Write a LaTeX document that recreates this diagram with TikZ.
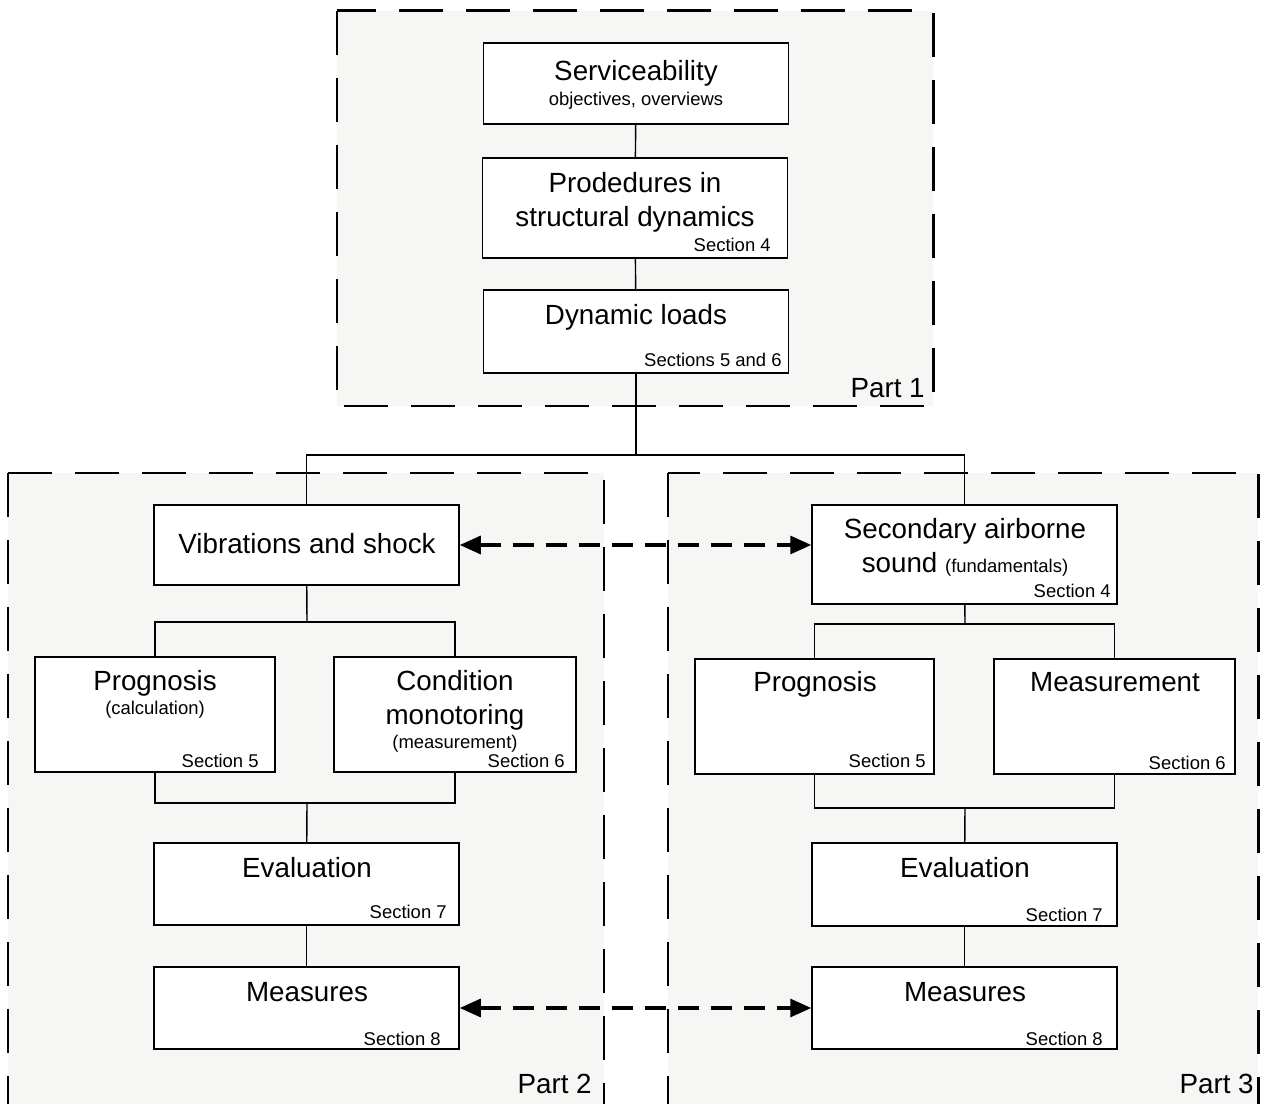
\documentclass[tikz,border=0pt]{standalone}
\usepackage{fontspec}
\setmainfont{Liberation Sans}
\usetikzlibrary{arrows.meta}
\definecolor{panelgray}{RGB}{246,246,244}

\begin{document}
\begin{tikzpicture}[x=0.02cm,y=-0.02cm,
  part/.style={draw=black,fill=panelgray,line width=1.7pt,dash pattern=on 0.88cm off 0.46cm},
  box/.style={draw=black,fill=white,line width=0.9pt,inner sep=0pt},
  head/.style={anchor=base,font=\fontsize{15.8}{19}\selectfont,inner sep=0pt},
  note/.style={anchor=base,font=\fontsize{10.5}{12.6}\selectfont,inner sep=0pt},
  sect/.style={anchor=base east,font=\fontsize{10.5}{12.6}\selectfont,inner sep=0pt},
  link/.style={draw=black,line width=0.8pt},
  both/.style={draw=black,line width=1.8pt,dash pattern=on 0.42cm off 0.24cm,
    {Triangle[length=0.42cm,width=0.36cm]}-{Triangle[length=0.42cm,width=0.36cm]}}]
            \useasboundingbox (0,0) rectangle (1262,1104);

            % the three parts
            \path[part] (337,11) rectangle (933,406);
            \path[part] (8,473) rectangle (604,1105);
            \path[part] (668,473) rectangle (1258,1105);

            % part 1
            \node[box,minimum width=6.1cm,minimum height=1.62cm] (serv) at (636,83.5) {};
            \node[box,minimum width=6.1cm,minimum height=2cm] (proc) at (635,208) {};
            \node[box,minimum width=6.1cm,minimum height=1.66cm] (loads) at (636,331.5) {};

            \node[head] (servT) at (636,81) {Serviceability};
            \node[note] (servN) at (636,106) {objectives, overviews};
            \node[head] (procT1) at (635,193) {Prodedures in};
            \node[head] (procT2) at (635,227) {structural dynamics};
            \node[sect] (procS) at (771,252) {Section 4};
            \node[head] (loadsT) at (636,325) {Dynamic loads};
            \node[sect] (loadsS) at (782,367) {Sections 5 and 6};
            \node[head,anchor=base east] (part1) at (925,398) {Part 1};

            % part 2
            \node[box,minimum width=6.1cm,minimum height=1.6cm] (vib) at (306.5,545) {};
            \node[box,minimum width=4.8cm,minimum height=2.3cm] (progL) at (155,714.5) {};
            \node[box,minimum width=4.84cm,minimum height=2.3cm] (cond) at (455,714.5) {};
            \node[box,minimum width=6.1cm,minimum height=1.64cm] (evalL) at (306.5,884) {};
            \node[box,minimum width=6.1cm,minimum height=1.64cm] (measuresL) at (306.5,1008) {};

            \node[head] (vibT) at (307,554) {Vibrations and shock};
            \node[head] (progLT) at (155,691) {Prognosis};
            \node[note] (progLN) at (155,715) {(calculation)};
            \node[sect] (progLS) at (259,768) {Section 5};
            \node[head] (condT1) at (455,691) {Condition};
            \node[head] (condT2) at (455,725) {monotoring};
            \node[note] (condN) at (455,749) {(measurement)};
            \node[sect] (condS) at (565,768) {Section 6};
            \node[head] (evalLT) at (307,877) {Evaluation};
            \node[sect] (evalLS) at (447,918) {Section 7};
            \node[head] (measuresLT) at (307,1001) {Measures};
            \node[sect] (measuresLS) at (441,1045) {Section 8};
            \node[head,anchor=base east] (part2) at (592,1093) {Part 2};

            % part 3
            \node[box,minimum width=6.1cm,minimum height=1.98cm] (sec) at (964.5,554.5) {};
            \node[box,minimum width=4.78cm,minimum height=2.3cm] (progR) at (814.5,716.5) {};
            \node[box,minimum width=4.82cm,minimum height=2.3cm] (measurement) at (1114.5,716.5) {};
            \node[box,minimum width=6.1cm,minimum height=1.66cm] (evalR) at (964.5,884.5) {};
            \node[box,minimum width=6.1cm,minimum height=1.64cm] (measuresR) at (964.5,1008) {};

            \node[head] (secT1) at (965,539) {Secondary airborne};
            \node[head] (secT2) at (965,573) {sound {\fontsize{10.5}{12.6}\selectfont(fundamentals)}};
            \node[sect] (secS) at (1111,598) {Section 4};
            \node[head] (progRT) at (815,692) {Prognosis};
            \node[sect] (progRS) at (926,768) {Section 5};
            \node[head] (measurementT) at (1115,692) {Measurement};
            \node[sect] (measurementS) at (1226,770) {Section 6};
            \node[head] (evalRT) at (965,877) {Evaluation};
            \node[sect] (evalRS) at (1103,921) {Section 7};
            \node[head] (measuresRT) at (965,1001) {Measures};
            \node[sect] (measuresRS) at (1103,1045) {Section 8};
            \node[head,anchor=base east] (part3) at (1254,1093) {Part 3};

            % connectors
            \coordinate (split) at (636,455);
            \coordinate (forkL) at (307,622);
            \coordinate (joinL) at (307,803);
            \coordinate (forkR) at (965,624);
            \coordinate (joinR) at (965,808);

            \draw[link] (serv) -- (proc);
            \draw[link] (proc) -- (loads);
            \draw[link] (loads) -- (split);
            \draw[link] (vib) |- (split) -| (sec);

            \draw[link] (vib) -- (forkL);
            \draw[link] (progL) |- (forkL) -| (cond);
            \draw[link] (progL) |- (joinL) -| (cond);
            \draw[link] (joinL) -- (evalL);
            \draw[link] (evalL) -- (measuresL);

            \draw[link] (sec) -- (forkR);
            \draw[link] (progR) |- (forkR) -| (measurement);
            \draw[link] (progR) |- (joinR) -| (measurement);
            \draw[link] (joinR) -- (evalR);
            \draw[link] (evalR) -- (measuresR);

            \draw[both] (vib.east) -- (vib.east -| sec.west);
            \draw[both] (measuresL.east) -- (measuresR.west);
        \end{tikzpicture}
\end{document}
